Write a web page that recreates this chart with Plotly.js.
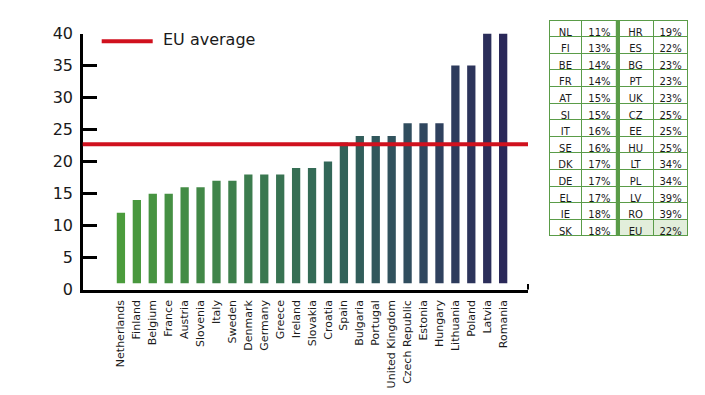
<!DOCTYPE html>
<html>
<head>
<meta charset="utf-8">
<script src="https://cdn.plot.ly/plotly-3.0.1.min.js"></script>
<style>html,body{margin:0;padding:0;background:#fff;}#chart{width:705px;height:395px;}</style>
</head>
<body>
<div id="chart"></div>
<script>
// ---- data ----
const countries = ["Netherlands","Finland","Belgium","France","Austria","Slovenia","Italy","Sweden","Denmark","Germany","Greece","Ireland","Slovakia","Croatia","Spain","Bulgaria","Portugal","United Kingdom","Czech Republic","Estonia","Hungary","Lithuania","Poland","Latvia","Romania"];
const shares = [11,13,14,14,15,15,16,16,17,17,17,18,18,19,22,23,23,23,25,25,25,34,34,39,39];
const euAverage = 22;
const euLineLevel = 22.7;           // level of the red line
const legendLabel = "EU average";
const yTicks = [0,5,10,15,20,25,30,35,40];

const tableCodesLeft  = ["NL","FI","BE","FR","AT","SI","IT","SE","DK","DE","EL","IE","SK"];
const tableValsLeft   = ["11%","13%","14%","14%","15%","15%","16%","16%","17%","17%","17%","18%","18%"];
const tableCodesRight = ["HR","ES","BG","PT","UK","CZ","EE","HU","LT","PL","LV","RO","EU"];
const tableValsRight  = ["19%","22%","23%","23%","23%","25%","25%","25%","34%","34%","39%","39%","22%"];

// ---- styling ----
const W = 705, H = 395;
const px = x => x / W;
const py = y => 1 - y / H;
const FONT = "DejaVu Sans, Verdana, sans-serif";
const TXT = "#1a1a1a";
const GREEN = "#5a9c48";
const ROW_H = 16.6;

const barTrace = {
  type: "bar",
  x: countries,
  y: shares,
  base: 1,
  width: 0.52,
  marker: {
    color: countries.map((_, i) => i),
    cmin: 0, cmax: countries.length - 1,
    colorscale: [[0, "#4b9c3c"], [0.33, "#3c7c4e"], [0.55, "#326658"], [0.78, "#30495f"], [1, "#2a2859"]],
    line: {width: 0}
  },
  hoverinfo: "x+y",
  showlegend: false
};

function makeTable(codes, vals, x0, x1, colw, lastFill) {
  const fillCol = codes.slice(1).map((c, i) => (i === codes.length - 2 && lastFill) ? lastFill : "#ffffff");
  return {
    type: "table",
    domain: {x: [px(x0), px(x1)], y: [py(262), py(20)]},
    columnwidth: colw,
    header: {
      values: [[codes[0]], [vals[0]]],
      height: ROW_H,
      align: "center",
      fill: {color: "#ffffff"},
      line: {color: GREEN, width: 1},
      font: {family: FONT, size: 10, color: TXT}
    },
    cells: {
      values: [codes.slice(1), vals.slice(1)],
      height: ROW_H,
      align: "center",
      fill: {color: [fillCol, fillCol]},
      line: {color: GREEN, width: 1},
      font: {family: FONT, size: 10, color: TXT}
    }
  };
}

const tableLeft = makeTable(tableCodesLeft, tableValsLeft, 549.3, 617.8, [32.4, 36], null);
const tableRight = makeTable(tableCodesRight, tableValsRight, 617.8, 687.9, [35.5, 34.4], "#e2eedb");

const layout = {
  width: W, height: H,
  margin: {l: 0, r: 0, t: 0, b: 0},
  paper_bgcolor: "#ffffff",
  plot_bgcolor: "#ffffff",
  showlegend: false,
  bargap: 0.48,
  xaxis: {
    domain: [px(82.7), px(528)],
    range: [-2.40, 25.56],
    type: "category",
    showgrid: false,
    zeroline: false,
    showline: true,
    linecolor: "#000",
    linewidth: 3,
    ticks: "",
    tickangle: -90,
    tickfont: {family: FONT, size: 11, color: TXT},
    ticklabelstandoff: 3,
    fixedrange: true
  },
  yaxis: {
    domain: [py(289.7), py(33.5)],
    range: [0, 40],
    tickvals: yTicks,
    ticktext: yTicks.map(String),
    showgrid: false,
    zeroline: false,
    showline: true,
    linecolor: "#000",
    linewidth: 2.5,
    ticks: "inside",
    ticklen: 14,
    tickwidth: 2.5,
    tickcolor: "#000",
    tickfont: {family: FONT, size: 16, color: TXT},
    ticklabelstandoff: 4,
    fixedrange: true
  },
  shapes: [
    {type: "line", xref: "paper", yref: "y", x0: px(82.7), x1: px(528), y0: euLineLevel, y1: euLineLevel,
     line: {color: "#d0111e", width: 4}, layer: "above"},
    {type: "line", xref: "paper", yref: "y", x0: px(528), x1: px(528), y0: 0, y1: 0.9,
     line: {color: "#000", width: 2}},
    {type: "line", xref: "paper", yref: "paper", x0: px(101.7), x1: px(152.7), y0: py(41.3), y1: py(41.3),
     line: {color: "#d0111e", width: 4}},
    {type: "rect", xref: "paper", yref: "paper", x0: px(615.8), x1: px(620), y0: py(235.8), y1: py(20),
     fillcolor: GREEN, line: {width: 0}, layer: "above"}
  ],
  annotations: [
    {xref: "paper", yref: "paper", x: px(161), y: py(40), xanchor: "left", yanchor: "middle",
     text: legendLabel, showarrow: false, font: {family: FONT, size: 16, color: TXT}}
  ]
};

Plotly.newPlot("chart", [barTrace, tableLeft, tableRight], layout, {displayModeBar: false, staticPlot: true});
</script>
</body>
</html>
